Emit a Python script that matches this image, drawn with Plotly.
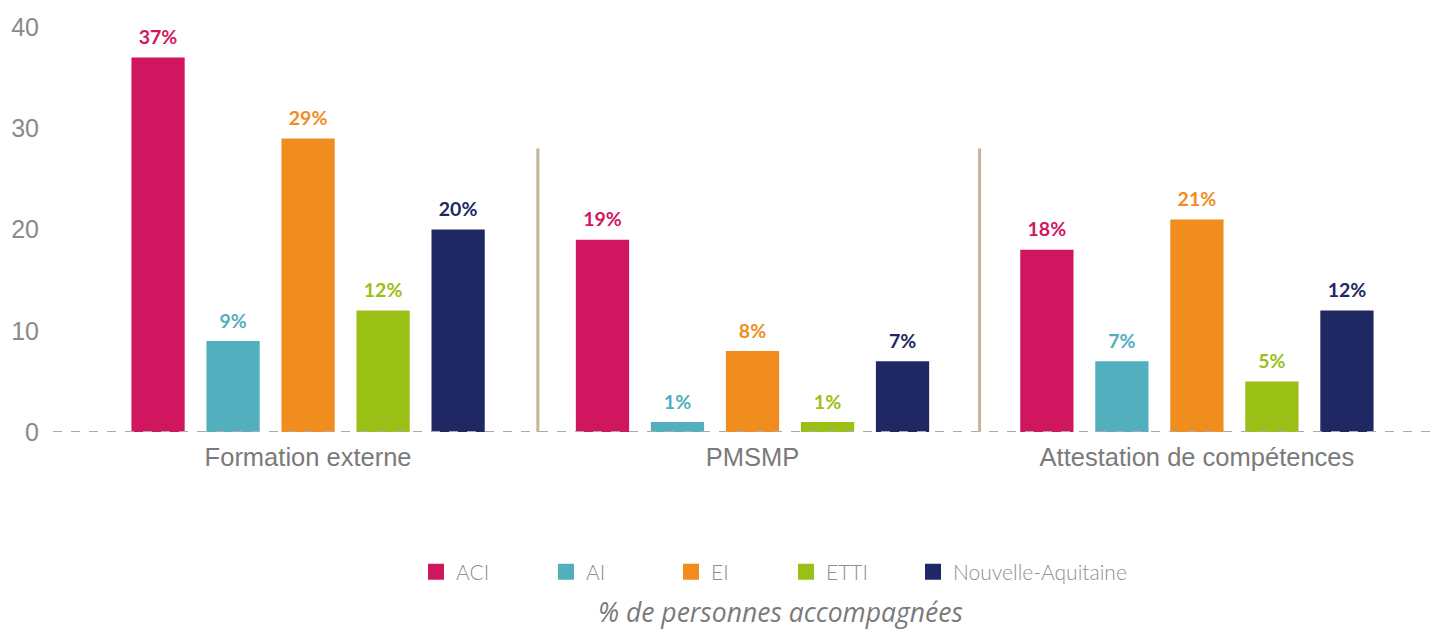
import plotly.graph_objects as go

categories = ["Formation externe", "PMSMP", "Attestation de compétences"]
series_names = ["ACI", "AI", "EI", "ETTI", "Nouvelle-Aquitaine"]
aci = [37, 19, 18]
ai = [9, 1, 7]
ei = [29, 8, 21]
etti = [12, 1, 5]
nouvelle_aquitaine = [20, 7, 12]
colors = ["#D11660", "#52AFBE", "#F08D1E", "#9BC015", "#202864"]
y_ticks = [0, 10, 20, 30, 40]

series_values = [aci, ai, ei, etti, nouvelle_aquitaine]

# page body has an 8px margin: figure coordinates = screen coordinates - 8
OFF = 8
W, H = 1445 - OFF, 630 - OFF
left, top = 53 - OFF, 27 - OFF
plot_w, plot_h = 1387, 405
right = W - left - plot_w
bottom = H - top - plot_h

# legend swatch centres (screen px) in the reference
legend_centres = [436, 566, 691, 806, 933]
legend_ids = ["legend", "legend2", "legend3", "legend4", "legend5"]

GAP = 0.156

fig = go.Figure()
for name, vals, col in zip(series_names, series_values, colors):
    fig.add_trace(go.Bar(
        x=categories, y=vals, name=name, marker=dict(color=col, line=dict(width=0)),
        showlegend=False, hoverinfo="x+y",
    ))
# value labels, grouped like the bars
for name, vals, col in zip(series_names, series_values, colors):
    fig.add_trace(go.Scatter(
        x=categories, y=vals, mode="markers+text", name=name + " label",
        marker=dict(size=12, color="rgba(0,0,0,0)"),
        text=[f"{v}%" for v in vals], textposition="top center",
        textfont=dict(family="Lato", size=19.5, color=col, weight="bold"),
        cliponaxis=False, showlegend=False, hoverinfo="skip",
    ))
# legend entries (on a hidden overlay axis so they do not take part in grouping)
for name, col, lid in zip(series_names, colors, legend_ids):
    fig.add_trace(go.Scatter(
        x=[None], y=[None], mode="markers", name=name, legend=lid,
        xaxis="x2", yaxis="y2",
        marker=dict(symbol="square", size=20, color=col), showlegend=True,
    ))

def py(screen_y):
    return (top + plot_h - (screen_y - OFF)) / plot_h

def px(screen_x):
    return (screen_x - OFF - left) / plot_w

legend_font = dict(family="Lato", size=21, color="#8f8f8f", weight=300)
legend_layout = {}
for lid, cx in zip(legend_ids, legend_centres):
    legend_layout[lid] = dict(
        x=px(cx - 20), xanchor="left", y=py(572), yanchor="middle",
        orientation="h", font=legend_font, bgcolor="rgba(0,0,0,0)", borderwidth=0,
        itemsizing="trace",
    )

fig.update_layout(
    width=W, height=H,
    margin=dict(l=left, r=right, t=top, b=bottom, autoexpand=False),
    plot_bgcolor="white", paper_bgcolor="white",
    barmode="group", bargap=GAP, bargroupgap=0.29,
    scattermode="group", scattergap=GAP,
    xaxis=dict(range=[-0.574, 2.547], showgrid=False, showline=False, zeroline=False,
               ticks="", automargin=False, ticklabelstandoff=7,
               tickfont=dict(family="Liberation Sans, Arial", size=25.5, color="#7a7a7a")),
    yaxis=dict(range=[0, 40], tickvals=y_ticks, showgrid=False, zeroline=False, showline=False,
               ticks="", ticklabelstandoff=13, automargin=False,
               tickfont=dict(family="Liberation Sans, Arial", size=25, color="#8a8a8a")),
    xaxis2=dict(overlaying="x", visible=False, range=[0, 1]),
    yaxis2=dict(overlaying="y", visible=False, range=[0, 1]),
    **legend_layout,
)

# dashed baseline
fig.add_shape(type="line", xref="paper", yref="y", x0=0, x1=1, y0=0, y1=0,
              line=dict(color="#aaaaaa", width=2, dash="dash"), layer="above")
# group separators
for xs in [0.517, 1.511]:
    fig.add_shape(type="line", xref="x", yref="y", x0=xs, x1=xs, y0=-0.6, y1=28,
                  line=dict(color="#C4B59A", width=3), layer="above")

fig.add_annotation(text="<i>% de personnes accompagnées</i>", xref="paper", yref="paper",
                   x=px(780), y=py(612),
                   xanchor="center", yanchor="middle", showarrow=False,
                   font=dict(family="Open Sans", size=26.5, color="#7a7a7a"))

fig.write_html("out.html")
